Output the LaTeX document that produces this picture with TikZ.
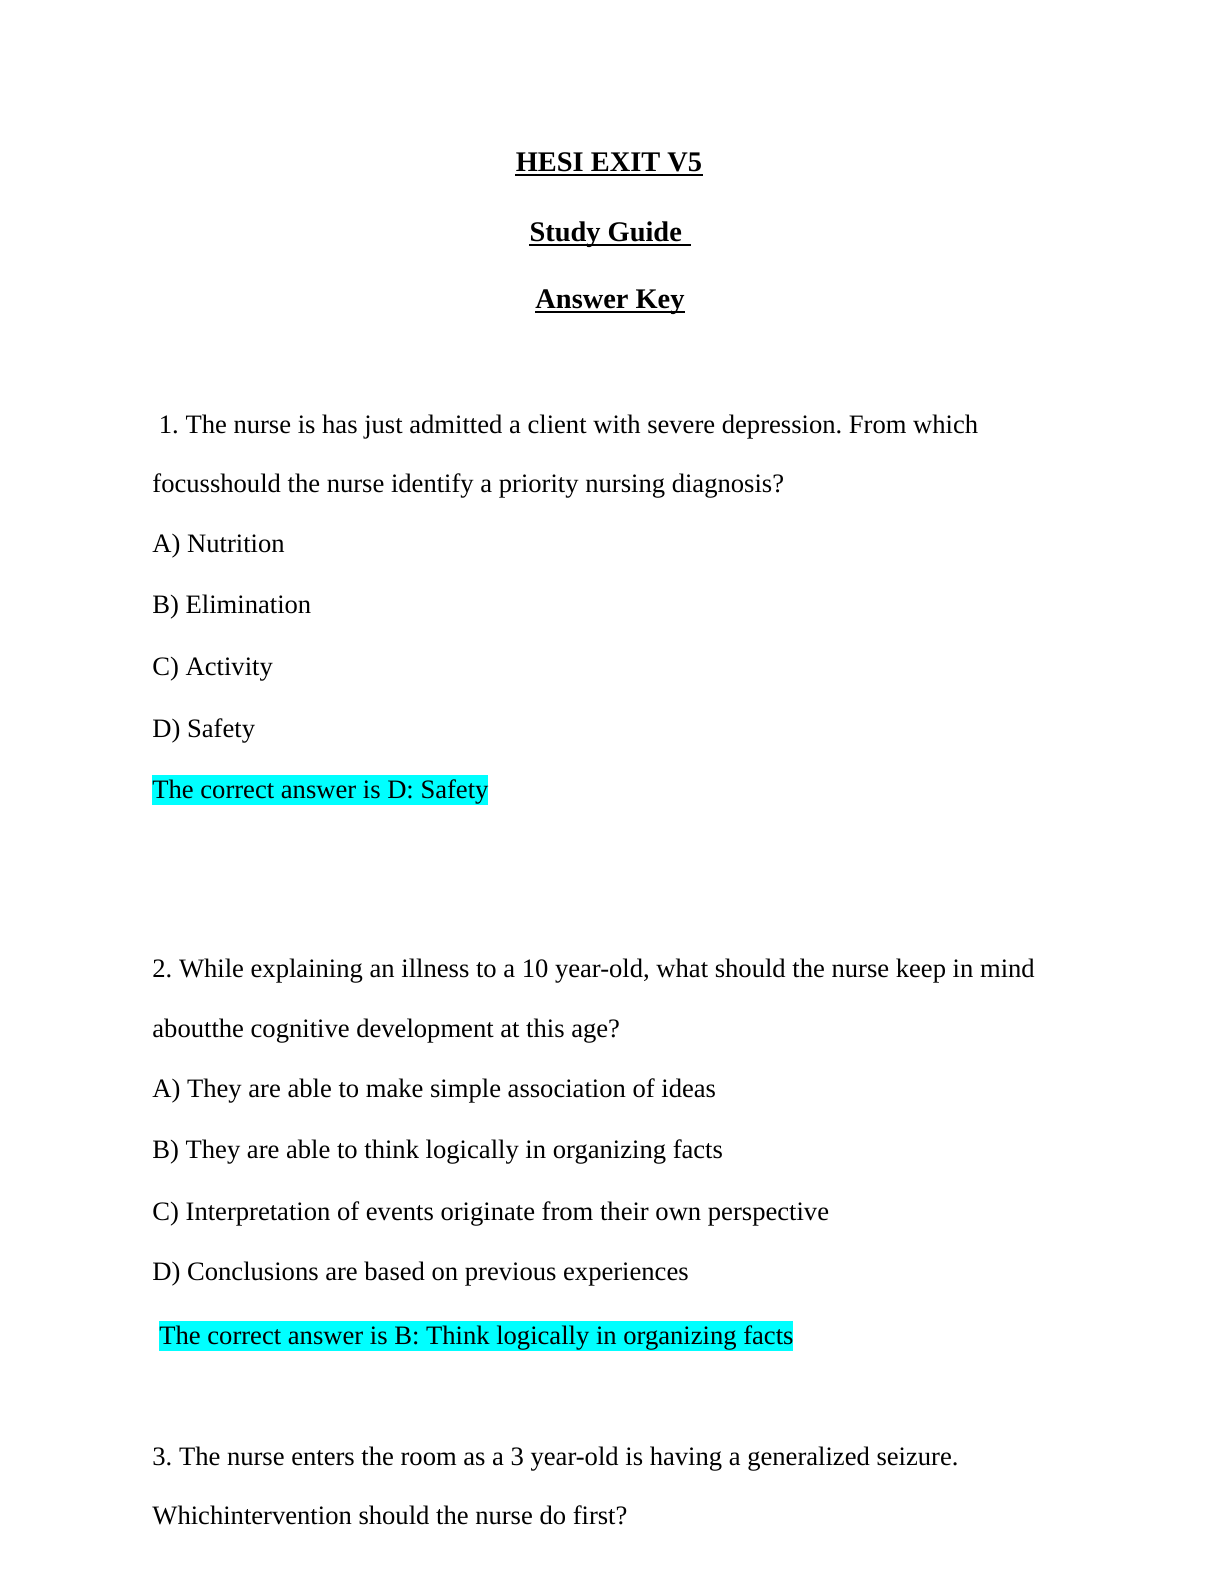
\documentclass[tikz,border=0pt]{standalone}
\usepackage{fontspec}
\setmainfont{Liberation Serif}
\frenchspacing
\definecolor{hlcyan}{RGB}{0,255,255}
\begin{document}
\begin{tikzpicture}[x=0.5pt,y=-0.5pt,
  txt/.style={anchor=base west,inner sep=0pt,font=\fontsize{13.3}{15}\selectfont},
  ttl/.style={anchor=base,inner sep=0pt,font=\fontsize{14.2}{16}\selectfont\bfseries},
  hl/.style={txt,fill=hlcyan,text height=11.5pt,text depth=3.5pt},
  uline/.style={line width=1pt}]
\fill[white] (0,0) rectangle (1224,1584);
\useasboundingbox (0,0) rectangle (1224,1584);
% titles
\node[ttl] (t1) at (609,171) {HESI EXIT V5};
\node[ttl] (t2) at (610,241) {Study Guide\hspace*{0.3em}\mbox{}};
\node[ttl] (t3) at (610,308) {Answer Key};
\foreach \n in {t1,t2,t3}
  \draw[uline] ([yshift=-2pt]\n.base west) -- ([yshift=-2pt]\n.base east);
% question 1
\node[txt] (q1a) at (158.5,433) {1. The nurse is has just admitted a client with severe depression. From which};
\node[txt] (q1b) at (152,492) {focusshould the nurse identify a priority nursing diagnosis?};
\node[txt] (q1A) at (152,552) {A) Nutrition};
\node[txt] (q1B) at (152,613) {B) Elimination};
\node[txt] (q1C) at (152,675) {C) Activity};
\node[txt] (q1D) at (152,737) {D) Safety};
\node[hl] (q1ans) at (152,798) {The correct answer is D: Safety};
% question 2
\node[txt] (q2a) at (152,977) {2. While explaining an illness to a 10 year-old, what should the nurse keep in mind};
\node[txt] (q2b) at (152,1037) {aboutthe cognitive development at this age?};
\node[txt] (q2A) at (152,1097) {A) They are able to make simple association of ideas};
\node[txt] (q2B) at (152,1158) {B) They are able to think logically in organizing facts};
\node[txt] (q2C) at (152,1220) {C) Interpretation of events originate from their own perspective};
\node[txt] (q2D) at (152,1280) {D) Conclusions are based on previous experiences};
\node[hl] (q2ans) at (159,1344) {The correct answer is B: Think logically in organizing facts};
% question 3
\node[txt] (q3a) at (152,1465) {3. The nurse enters the room as a 3 year-old is having a generalized seizure.};
\node[txt] (q3b) at (152,1524) {Whichintervention should the nurse do first?};
\end{tikzpicture}
\end{document}
